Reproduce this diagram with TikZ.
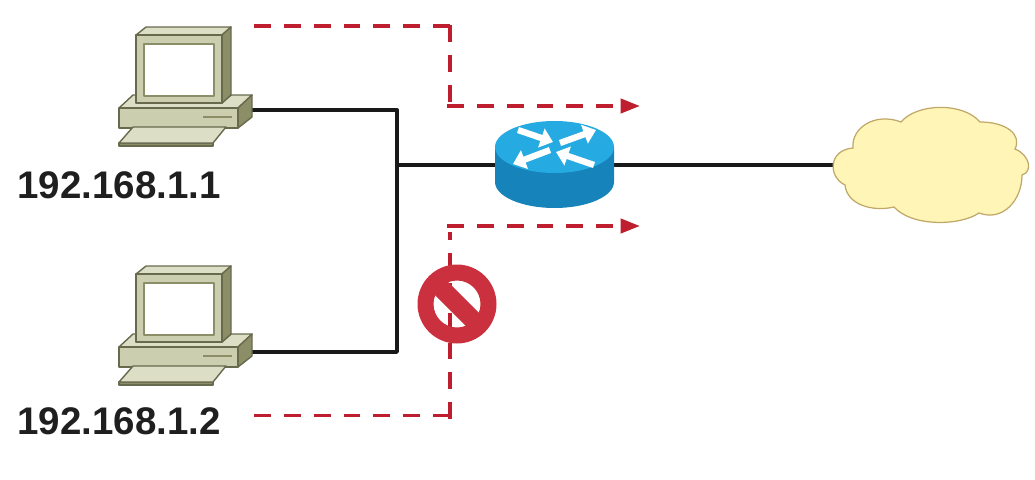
\documentclass[tikz,border=0pt]{standalone}
\usepackage{fontspec}
\setmainfont{Liberation Sans}
\usetikzlibrary{%
        arrows.meta
    }
\definecolor{pcfront}{RGB}{204, 206, 176}
\definecolor{pctop}{RGB}{220, 222, 198}
\definecolor{pcside}{RGB}{140, 142, 104}
\definecolor{pcline}{RGB}{104, 106, 78}
\definecolor{routertop}{RGB}{38, 170, 226}
\definecolor{routerside}{RGB}{22, 132, 186}
\definecolor{dashred}{RGB}{190, 30, 45}
\definecolor{signred}{RGB}{203, 48, 62}
\definecolor{cloudfill}{RGB}{255, 245, 182}
\definecolor{cloudline}{RGB}{192, 168, 104}
\tikzset{
    wire/.style={black!90, line width=1.9pt, line join=round},
    redleg/.style={dashred, line width=2.1pt, dash pattern=on 9.6pt off 7.4pt},
    redtip/.style={redleg, -{Triangle[length=11pt, width=8pt]}},
    routerarrow/.style={white, line width=3.6pt, -{Triangle[length=7pt, width=11pt]}},
    iplabel/.style={anchor=west, inner sep=0pt, text=black!88, font=\fontsize{21.9}{24}\selectfont\bfseries},
    computer/.pic={
        \begin{scope}[draw=pcline, line width=0.8pt, line join=round]
            \filldraw[fill=pctop] (0, 81) -- (14, 68) -- (133, 68) -- (119, 81) -- cycle;
            \filldraw[fill=pcside] (119, 81) -- (133, 68) -- (133, 90) -- (119, 101) -- cycle;
            \filldraw[fill=pcfront] (0, 81) rectangle (119, 101);
            \draw[line width=1.3pt, pcside] (84, 90) -- (113, 90);
            \filldraw[fill=pcside] (0, 116) rectangle (94, 119);
            \filldraw[fill=pctop] (14, 100) -- (107, 100) -- (94, 116) -- (0, 116) -- cycle;
            \filldraw[fill=pcline] (17, 76) -- (103, 76) -- (112, 68) -- (17, 68) -- cycle;
            \filldraw[fill=pctop] (17, 8) -- (27, 0) -- (112, 0) -- (103, 8) -- cycle;
            \filldraw[fill=pcside] (103, 8) -- (112, 0) -- (112, 68) -- (103, 76) -- cycle;
            \filldraw[fill=pcfront] (17, 8) rectangle (103, 76);
            \filldraw[fill=white, draw=pcside] (25, 17) rectangle (95, 69);
        \end{scope}
    }
}

\begin{document}
\begin{tikzpicture}[x=0.02cm, y=-0.02cm]

    \useasboundingbox (0, 0) rectangle (1035, 480);

    \coordinate (pcone) at (250, 110);
    \coordinate (pctwo) at (250, 352);
    \coordinate (joint) at (397, 165);
    \coordinate (cloudport) at (833, 165);
    \node[minimum width=2.38cm, minimum height=1pt, inner sep=0pt] (router) at (554.5, 165) {};

    \draw[wire] (pcone) -| (joint) |- (pctwo);
    \draw[wire] (joint) -- (router.west);
    \draw[wire] (router.east) -- (cloudport);

    \pic at (119, 27) {computer};
    \pic at (119, 266) {computer};
    \node[iplabel] (ipone) at (17, 185) {192.168.1.1};
    \node[iplabel] (iptwo) at (17, 421) {192.168.1.2};

    % router body
    \fill[routerside] (495, 147) -- (495, 182) arc[start angle=180, end angle=360, x radius=59.5, y radius=-26]
        -- (614, 147) -- cycle;
    \fill[routertop] (554.5, 147) ellipse[x radius=59.5, y radius=26];
    \draw[routerarrow] (518, 130) -- (553, 142);
    \draw[routerarrow] (560, 143) -- (596, 130);
    \draw[routerarrow] (550, 150) -- (513, 164);
    \draw[routerarrow] (594, 165) -- (556, 152);

    \fill[cloudfill, draw=cloudline, line width=0.7pt]
        (853, 148) .. controls (851, 128) and (875, 112) .. (901, 122)
        .. controls (917, 103) and (963, 102) .. (980, 122)
        .. controls (1007, 122) and (1022, 135) .. (1015, 149)
        .. controls (1030, 155) and (1033, 172) .. (1022, 175)
        .. controls (1022, 200) and (1003, 222) .. (979, 213)
        .. controls (960, 226) and (912, 227) .. (894, 207)
        .. controls (873, 212) and (847, 205) .. (845, 185)
        .. controls (828, 177) and (828, 150) .. (853, 148)
        -- cycle;

    \coordinate (upstart) at (254, 26);
    \coordinate (upcorner) at (451, 26);
    \coordinate (uptop) at (450, 25);
    \coordinate (upfoot) at (450, 102);
    \coordinate (uphead) at (447, 106);
    \coordinate (upend) at (640, 106);
    \coordinate (lowstart) at (254, 415.5);
    \coordinate (lowcorner) at (451, 415.5);
    \coordinate (lowtop) at (450, 232);
    \coordinate (lowfoot) at (450, 420);
    \coordinate (lowhead) at (447, 226);
    \coordinate (lowend) at (640, 226);

    \foreach \from/\to in {upstart/upcorner, uptop/upfoot, lowstart/lowcorner} {%
        \draw[redleg] (\from) -- (\to);
    };
    \draw[redleg, dash phase=5.1pt] (lowtop) -- (lowfoot);
    \draw[redtip] (uphead) -- (upend);
    \draw[redtip] (lowhead) -- (lowend);

    % forbidden sign
    \fill[signred, even odd rule] (457, 304) circle (39.5) (457, 304) circle (23.5);
    \draw[signred, line width=10.5pt] (440, 287) -- (474, 321);

\end{tikzpicture}
\end{document}
